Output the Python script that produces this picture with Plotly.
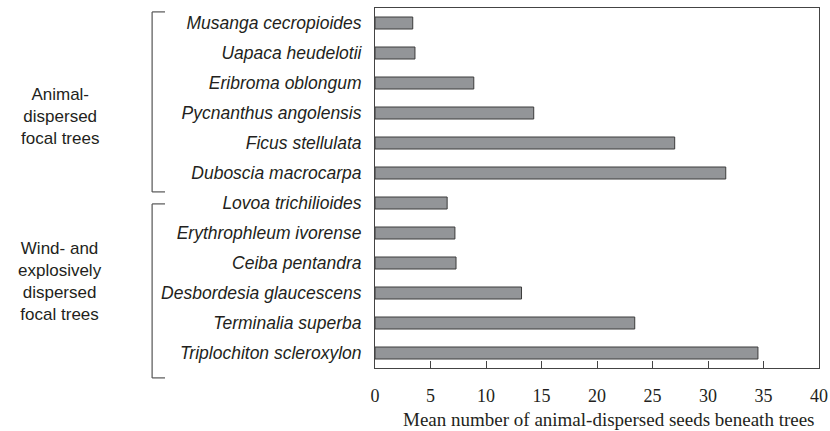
import plotly.graph_objects as go

species = [
    "Musanga cecropioides",
    "Uapaca heudelotii",
    "Eribroma oblongum",
    "Pycnanthus angolensis",
    "Ficus stellulata",
    "Duboscia macrocarpa",
    "Lovoa trichilioides",
    "Erythrophleum ivorense",
    "Ceiba pentandra",
    "Desbordesia glaucescens",
    "Terminalia superba",
    "Triplochiton scleroxylon",
]
mean_seeds = [3.4, 3.6, 8.9, 14.3, 27.0, 31.6, 6.5, 7.2, 7.3, 13.2, 23.4, 34.5]
x_ticks = [0, 5, 10, 15, 20, 25, 30, 35, 40]

group_labels = [
    "Animal-<br>dispersed<br>focal trees",
    "Wind- and<br>explosively<br>dispersed<br>focal trees",
]
x_title = "Mean number of animal-dispersed seeds beneath trees"

n = len(species)


def cat_to_paper(idx):
    # category index (0 at top) -> paper y
    return 1 - (idx + 0.5) / n


fig = go.Figure(
    go.Bar(
        y=species,
        x=mean_seeds,
        orientation="h",
        width=0.4,
        marker=dict(color="#939598", line=dict(color="#3c3c3c", width=1)),
    )
)

# bracket extents and label centres, in category units
brackets = [(-0.37, 5.63), (6.03, 11.83)]
label_centres = [3.13, 8.63]

shapes = []
annotations = []
bx, bx2 = -0.502, -0.473
line = dict(color="#555555", width=1.2)
for label, (top, bot), mid in zip(group_labels, brackets, label_centres):
    y0, y1 = cat_to_paper(bot), cat_to_paper(top)
    shapes.append(dict(type="line", xref="paper", yref="paper", x0=bx, x1=bx, y0=y0, y1=y1, line=line))
    shapes.append(dict(type="line", xref="paper", yref="paper", x0=bx, x1=bx2, y0=y0, y1=y0, line=line))
    shapes.append(dict(type="line", xref="paper", yref="paper", x0=bx, x1=bx2, y0=y1, y1=y1, line=line))
    annotations.append(dict(
        text=label, xref="paper", yref="paper",
        x=-0.709, y=cat_to_paper(mid), xanchor="center", yanchor="middle",
        showarrow=False, align="center",
        font=dict(family="Liberation Sans, Arial", size=17, color="#231f20"),
    ))

# x-axis title sits a little right of centre in the original
annotations.append(dict(
    text=x_title, xref="paper", yref="paper", x=0.527, y=-0.144,
    xanchor="center", yanchor="middle", showarrow=False,
    font=dict(family="Liberation Serif, Times New Roman", size=19, color="#231f20"),
))

fig.update_layout(
    width=830, height=431,
    margin=dict(l=375, r=11, t=8, b=63),
    plot_bgcolor="white",
    paper_bgcolor="white",
    showlegend=False,
    shapes=shapes,
    annotations=annotations,
)
fig.update_xaxes(
    range=[0, 40], tickvals=x_ticks,
    ticks="inside", ticklen=7, tickcolor="#444444",
    showline=True, linecolor="#444444", linewidth=1, mirror=True,
    showgrid=False, zeroline=False, automargin=False,
    ticklabelstandoff=11,
    tickfont=dict(family="Liberation Serif, Times New Roman", size=18, color="#231f20"),
)
fig.update_yaxes(
    autorange="reversed",
    ticks="", showline=True, linecolor="#444444", linewidth=1, mirror=True,
    showgrid=False, ticklabelstandoff=9, automargin=False,
    tickfont=dict(family="Liberation Sans, Arial", size=17.5, color="#231f20", style="italic"),
)

fig.write_html("out.html", config={"displayModeBar": False},
               post_script="document.body.style.margin='0';")
